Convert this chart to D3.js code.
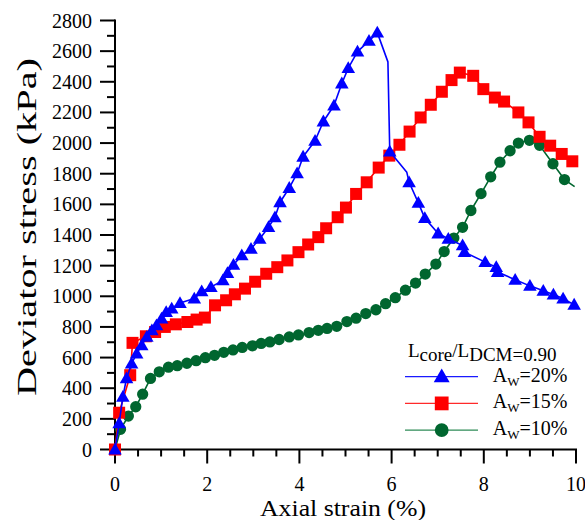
<!DOCTYPE html>
<html>
<head>
<meta charset="utf-8">
<script src="https://cdn.jsdelivr.net/npm/d3@7/dist/d3.min.js"></script>
<style>
  html, body { margin: 0; padding: 0; background: #fff; }
  svg { display: block; }
  text { font-family: "Liberation Serif", "Times New Roman", serif; fill: #000; }
</style>
</head>
<body>
<svg id="chart" width="585" height="520"></svg>
<script>
// Axial strain (%) / deviator stress (kPa) for each area replacement ratio
const strain20 = [0, 0.09, 0.17, 0.25, 0.36, 0.47, 0.58, 0.69, 0.80, 0.90, 1.01, 1.11, 1.23, 1.41, 1.72, 1.88, 2.08, 2.34, 2.44, 2.57, 2.75, 2.95, 3.14, 3.33, 3.47, 3.58, 3.78, 3.95, 4.08, 4.34, 4.52, 4.75, 4.92, 5.06, 5.26, 5.51, 5.69, 5.96, 6.38, 6.58, 6.72, 7.01, 7.23, 7.54, 7.58, 8.03, 8.27, 8.30, 8.68, 9.00, 9.29, 9.51, 9.72, 9.96];
const stress20 = [0, 171, 344, 464, 561, 626, 680, 735, 778, 811, 854, 897, 920, 956, 985, 1032, 1060, 1104, 1151, 1206, 1267, 1310, 1375, 1451, 1516, 1614, 1707, 1802, 1911, 2015, 2141, 2245, 2389, 2489, 2597, 2667, 2721, 1945, 1744, 1610, 1510, 1410, 1375, 1332, 1288, 1223, 1190, 1158, 1108, 1068, 1036, 1011, 985, 945];

const strain15 = [0, 0.09, 0.33, 0.38, 0.67, 0.87, 1.08, 1.32, 1.57, 1.77, 1.95, 2.17, 2.41, 2.60, 2.82, 3.04, 3.28, 3.52, 3.74, 3.98, 4.19, 4.41, 4.58, 4.83, 5.01, 5.23, 5.46, 5.72, 5.95, 6.17, 6.39, 6.63, 6.85, 7.09, 7.30, 7.48, 7.77, 7.99, 8.24, 8.44, 8.75, 8.97, 9.21, 9.44, 9.69, 9.92];
const stress15 = [0, 240, 485, 696, 739, 767, 800, 817, 832, 848, 861, 941, 974, 1013, 1050, 1095, 1147, 1190, 1234, 1288, 1338, 1386, 1444, 1516, 1579, 1668, 1744, 1840, 1918, 1989, 2075, 2167, 2250, 2335, 2411, 2460, 2439, 2352, 2297, 2271, 2200, 2135, 2041, 1983, 1929, 1881];

const strain10 = [0, 0.12, 0.29, 0.45, 0.60, 0.77, 0.96, 1.16, 1.35, 1.56, 1.76, 1.96, 2.16, 2.36, 2.56, 2.76, 2.98, 3.17, 3.36, 3.56, 3.78, 3.98, 4.21, 4.41, 4.60, 4.81, 5.03, 5.23, 5.44, 5.66, 5.87, 6.08, 6.30, 6.52, 6.73, 6.96, 7.14, 7.35, 7.54, 7.72, 7.94, 8.15, 8.35, 8.57, 8.75, 8.99, 9.21, 9.50, 9.75];
const stress10 = [0, 132, 218, 279, 361, 464, 507, 537, 547, 563, 580, 599, 615, 634, 650, 666, 677, 692, 702, 718, 735, 748, 763, 778, 790, 804, 835, 857, 887, 912, 952, 991, 1040, 1086, 1145, 1210, 1292, 1380, 1450, 1560, 1670, 1780, 1875, 1950, 2000, 2018, 1985, 1865, 1762];

// Recorded curve points between plotted markers
const curveExtra20 = [[5.92, 2530], [6.33, 1809]];
const curveExtra10 = [[9.97, 1716]];

const xTicks = [0, 2, 4, 6, 8, 10];
const yTicks = [0, 200, 400, 600, 800, 1000, 1200, 1400, 1600, 1800, 2000, 2200, 2400, 2600, 2800];

const legendTitle = { main: "L", sub1: "core", mid: "/L", sub2: "DCM=0.90" };
const seriesNames = ["20%", "15%", "10%"];

const svg = d3.select("#chart");
const x = d3.scaleLinear().domain([0, 10]).range([115, 576]);
const y = d3.scaleLinear().domain([0, 2800]).range([449.5, 20.5]);

const zip = (a, b) => a.map((v, i) => [v, b[i]]);
const series = [
  { key: "10", name: seriesNames[2], color: "#00662f", legendLine: "#2e8b57", shape: "circle",
    pts: zip(strain10, stress10), extra: curveExtra10 },
  { key: "15", name: seriesNames[1], color: "#ff0000", legendLine: "#ff2a2a", shape: "square",
    pts: zip(strain15, stress15), extra: [] },
  { key: "20", name: seriesNames[0], color: "#0000ff", legendLine: "#1a1aff", shape: "triangle",
    pts: zip(strain20, stress20), extra: curveExtra20 }
];

// Axes: left and bottom only, with minor ticks
const axisG = svg.append("g");
const xMinor = d3.range(0, 10.001, 0.5);
const yMinor = d3.range(0, 2801, 100);

const bottom = axisG.append("g");
bottom.append("line").attr("x1", x(0) - 1).attr("x2", x(10) + 1)
  .attr("y1", y(0)).attr("y2", y(0)).attr("stroke", "#000").attr("stroke-width", 2);
bottom.selectAll("line.mt").data(xMinor).join("line")
  .attr("x1", d => x(d)).attr("x2", d => x(d))
  .attr("y1", y(0)).attr("y2", d => y(0) + (d % 2 === 0 ? 14 : 7))
  .attr("stroke", "#000").attr("stroke-width", 2);
bottom.selectAll("text").data(xTicks).join("text")
  .attr("x", d => x(d)).attr("y", 490.5)
  .attr("text-anchor", "middle").attr("font-size", 20)
  .text(d => d);

const left = axisG.append("g");
left.append("line").attr("x1", x(0)).attr("x2", x(0))
  .attr("y1", y(0) + 1).attr("y2", y(2800) - 1).attr("stroke", "#000").attr("stroke-width", 2);
left.selectAll("line.mt").data(yMinor).join("line")
  .attr("x1", x(0)).attr("x2", d => x(0) - (d % 200 === 0 ? 15 : 8))
  .attr("y1", d => y(d)).attr("y2", d => y(d))
  .attr("stroke", "#000").attr("stroke-width", 2);
left.selectAll("text").data(yTicks).join("text")
  .attr("x", 92).attr("y", d => y(d) + 7)
  .attr("text-anchor", "end").attr("font-size", 20)
  .text(d => d);

svg.append("text").attr("x", 343).attr("y", 516)
  .attr("text-anchor", "middle").attr("font-size", 23.5)
  .attr("textLength", 166).attr("lengthAdjust", "spacingAndGlyphs")
  .text("Axial strain (%)");
svg.append("text").attr("transform", "translate(36,227) rotate(-90)")
  .attr("text-anchor", "middle").attr("font-size", 27)
  .attr("textLength", 338).attr("lengthAdjust", "spacingAndGlyphs")
  .text("Deviator stress (kPa)");

// Marker shapes
const sym = {
  circle: d3.symbol().type(d3.symbolCircle).size(100),
  square: d3.symbol().type(d3.symbolSquare).size(144),
  triangle: d3.symbol().type(d3.symbolTriangle).size(80)
};

const line = d3.line().x(d => x(d[0])).y(d => y(d[1]));

series.forEach(s => {
  // the A_w = 20% curve drops steeply after its peak, so keep record order there
  const path = s.key === "20"
    ? s.pts.slice(0, 37).concat([s.extra[0]], s.pts.slice(37, 38), [s.extra[1]], s.pts.slice(38))
    : s.pts.concat(s.extra).sort((a, b) => a[0] - b[0]);
  const g = svg.append("g");
  g.append("path").datum(path)
    .attr("d", line).attr("fill", "none")
    .attr("stroke", s.color).attr("stroke-width", 1.6).attr("stroke-linejoin", "round");
  g.selectAll("path.m").data(s.pts).join("path")
    .attr("class", "m")
    .attr("transform", d => `translate(${x(d[0])},${y(d[1]) + (s.shape === "triangle" ? 1 : 0)})`)
    .attr("d", sym[s.shape]())
    .attr("fill", s.color);
});

// Legend
const lg = svg.append("g");
const title = lg.append("text").attr("x", 408).attr("y", 357).attr("font-size", 19);
title.append("tspan").text(legendTitle.main);
title.append("tspan").attr("dy", 4.3).text(legendTitle.sub1);
title.append("tspan").attr("dy", -4.3).text(legendTitle.mid);
title.append("tspan").attr("dy", 4.3).text(legendTitle.sub2);

const big = {
  circle: d3.symbol().type(d3.symbolCircle).size(150),
  square: d3.symbol().type(d3.symbolSquare).size(190),
  triangle: d3.symbol().type(d3.symbolTriangle).size(110)
};
const legendOrder = [series[2], series[1], series[0]];
legendOrder.forEach((s, i) => {
  const ly = 376.7 + i * 26.7;
  lg.append("line").attr("x1", 405).attr("x2", 478).attr("y1", ly).attr("y2", ly)
    .attr("stroke", s.legendLine).attr("stroke-width", 1.3);
  lg.append("path").attr("transform", `translate(441.7,${ly + (s.shape === "triangle" ? 1 : 0)})`)
    .attr("d", big[s.shape]()).attr("fill", s.color);
  const t = lg.append("text").attr("x", 492.7).attr("y", ly + 5).attr("font-size", 20);
  t.append("tspan").text("A");
  t.append("tspan").attr("dy", 4).attr("font-size", 13).text("W");
  t.append("tspan").attr("dy", -4).text("=" + s.name);
});
</script>
</body>
</html>
